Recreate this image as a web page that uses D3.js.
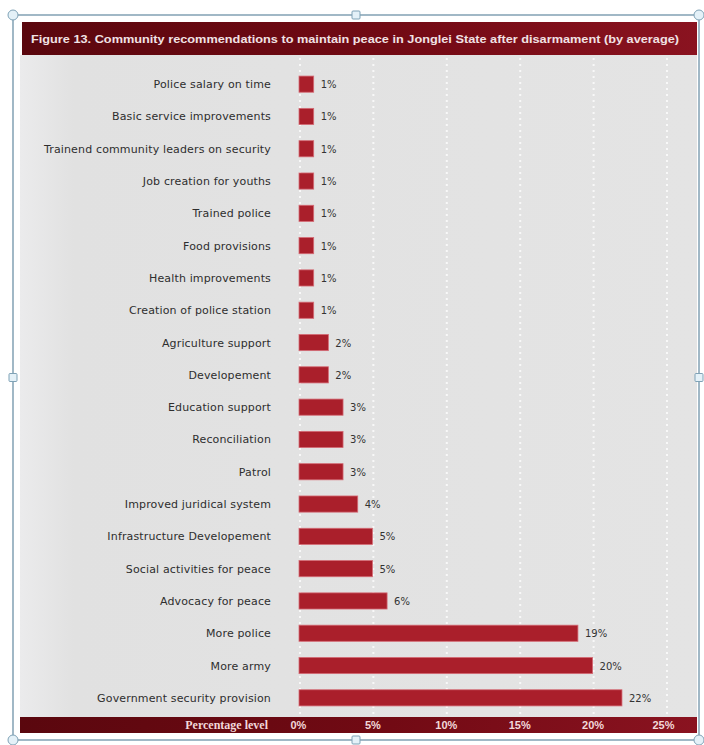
<!doctype html>
<html>
<head>
<meta charset="utf-8">
<title>Figure 13</title>
<style>
  body { margin: 0; background: #fff; }
  svg { display: block; }
</style>
</head>
<body>
<script src="https://d3js.org/d3.v7.min.js"></script>
<script>
// --- data ---
var categories = [
    'Police salary on time',
    'Basic service improvements',
    'Trainend community leaders on security',
    'Job creation for youths',
    'Trained police',
    'Food provisions',
    'Health improvements',
    'Creation of police station',
    'Agriculture support',
    'Developement',
    'Education support',
    'Reconciliation',
    'Patrol',
    'Improved juridical system',
    'Infrastructure Developement',
    'Social activities for peace',
    'Advocacy for peace',
    'More police',
    'More army',
    'Government security provision'
];
var values = [1, 1, 1, 1, 1, 1, 1, 1, 2, 2, 3, 3, 3, 4, 5, 5, 6, 19, 20, 22];
var ticks = [0, 5, 10, 15, 20, 25];
var title = 'Figure 13. Community recommendations to maintain peace in Jonglei State after disarmament (by average)';
var axisTitle = 'Percentage level';

var W = 704, H = 745;
var svg = d3.select('body').append('svg').attr('width', W).attr('height', H);

var defs = svg.append('defs');
var g1 = defs.append('linearGradient').attr('id', 'bar-grad').attr('x1', 0).attr('x2', 1).attr('y1', 0).attr('y2', 0);
g1.append('stop').attr('offset', '0%').attr('stop-color', '#5a070e');
g1.append('stop').attr('offset', '55%').attr('stop-color', '#720a14');
g1.append('stop').attr('offset', '100%').attr('stop-color', '#8a1320');
var g2 = defs.append('linearGradient').attr('id', 'bg-grad').attr('x1', 0).attr('x2', 1).attr('y1', 0).attr('y2', 0);
g2.append('stop').attr('offset', '0%').attr('stop-color', '#ebebec');
g2.append('stop').attr('offset', '8%').attr('stop-color', '#e1e1e1');
g2.append('stop').attr('offset', '100%').attr('stop-color', '#e4e4e4');

// panel background
svg.append('rect').attr('x', 20).attr('y', 55).attr('width', 677).attr('height', 663).attr('fill', 'url(#bg-grad)');

// title bar
svg.append('rect').attr('x', 22).attr('y', 22).attr('width', 675).attr('height', 33).attr('fill', 'url(#bar-grad)');
svg.append('text')
    .attr('x', 31).attr('y', 42.5)
    .attr('textLength', 648).attr('lengthAdjust', 'spacingAndGlyphs')
    .attr('font-family', 'Liberation Sans, Arial, sans-serif')
    .attr('font-size', 11).attr('font-weight', 'bold')
    .attr('fill', '#f1e2e4')
    .text(title);

// scales
var x = d3.scaleLinear().domain([0, 25]).range([299, 666]);
var y = d3.scaleBand().domain(categories).range([68, 714]).paddingInner(0.5).paddingOuter(0.25);

// dotted gridlines
svg.append('g').selectAll('line').data(ticks).enter().append('line')
    .attr('x1', function(d){ return x(d) + 1; })
    .attr('x2', function(d){ return x(d) + 1; })
    .attr('y1', 58).attr('y2', 716)
    .attr('stroke', '#f8f8f8').attr('stroke-width', 2)
    .attr('stroke-dasharray', '2,4');

// labels
svg.append('g').selectAll('text').data(categories).enter().append('text')
    .attr('x', 271)
    .attr('y', function(d){ return y(d) + y.bandwidth() / 2 + 4; })
    .attr('text-anchor', 'end')
    .attr('font-family', 'DejaVu Sans, Verdana, sans-serif')
    .attr('font-size', 11)
    .attr('letter-spacing', 0.15)
    .attr('fill', '#2e2e2e')
    .text(function(d){ return d; });

// bars
svg.append('g').selectAll('rect').data(values).enter().append('rect')
    .attr('x', x(0))
    .attr('y', function(d, i){ return y(categories[i]); })
    .attr('width', function(d){ return x(d) - x(0); })
    .attr('height', y.bandwidth())
    .attr('fill', '#aa1f2b')
    .attr('stroke', '#d46a74').attr('stroke-width', 0.8);

// value labels
svg.append('g').selectAll('text').data(values).enter().append('text')
    .attr('x', function(d){ return x(d) + 7; })
    .attr('y', function(d, i){ return y(categories[i]) + y.bandwidth() / 2 + 4; })
    .attr('font-family', 'DejaVu Sans, Verdana, sans-serif')
    .attr('font-size', 10)
    .attr('fill', '#333')
    .text(function(d){ return d + '%'; });

// bottom axis bar
svg.append('rect').attr('x', 20).attr('y', 717).attr('width', 677).attr('height', 16).attr('fill', 'url(#bar-grad)');
svg.append('text')
    .attr('x', 268).attr('y', 729)
    .attr('text-anchor', 'end')
    .attr('font-family', 'Liberation Serif, Times New Roman, serif')
    .attr('font-size', 12).attr('font-weight', 'bold')
    .attr('fill', '#f2d8da')
    .text(axisTitle);

var axis = d3.axisBottom(x).tickValues(ticks).tickSize(0).tickFormat(function(d){ return d + '%'; });
var ax = svg.append('g').attr('transform', 'translate(0,717)').call(axis);
ax.select('.domain').remove();
ax.selectAll('text')
    .attr('dy', 0).attr('y', 12)
    .attr('text-anchor', function(d){ return d === 0 ? 'start' : 'middle'; })
    .attr('dx', function(d){ return d === 0 ? -9 : (d === 25 ? -3 : 0); })
    .attr('font-family', 'Liberation Sans Narrow, Liberation Sans, Arial, sans-serif')
    .attr('font-size', 11).attr('font-weight', 'bold')
    .attr('fill', '#f2d8da');

// selection frame round the picture
var fx0 = 13, fy0 = 15, fx1 = 699, fy1 = 740;
svg.append('rect').attr('x', fx0).attr('y', fy0).attr('width', fx1 - fx0).attr('height', fy1 - fy0)
    .attr('fill', 'none').attr('stroke', '#6f93a8').attr('stroke-width', 1.3);
var corners = [[fx0, fy0], [fx1, fy0], [fx0, fy1], [fx1, fy1]];
svg.append('g').selectAll('circle').data(corners).enter().append('circle')
    .attr('cx', function(d){ return d[0]; }).attr('cy', function(d){ return d[1]; })
    .attr('r', 5).attr('fill', '#e4f1f8').attr('stroke', '#7fa2b6');
var mids = [[(fx0 + fx1) / 2, fy0], [(fx0 + fx1) / 2, fy1], [fx0, (fy0 + fy1) / 2], [fx1, (fy0 + fy1) / 2]];
svg.append('g').selectAll('rect').data(mids).enter().append('rect')
    .attr('x', function(d){ return d[0] - 4; }).attr('y', function(d){ return d[1] - 4; })
    .attr('width', 8).attr('height', 8).attr('rx', 1)
    .attr('fill', '#e4f1f8').attr('stroke', '#7fa2b6');
</script>
</body>
</html>
